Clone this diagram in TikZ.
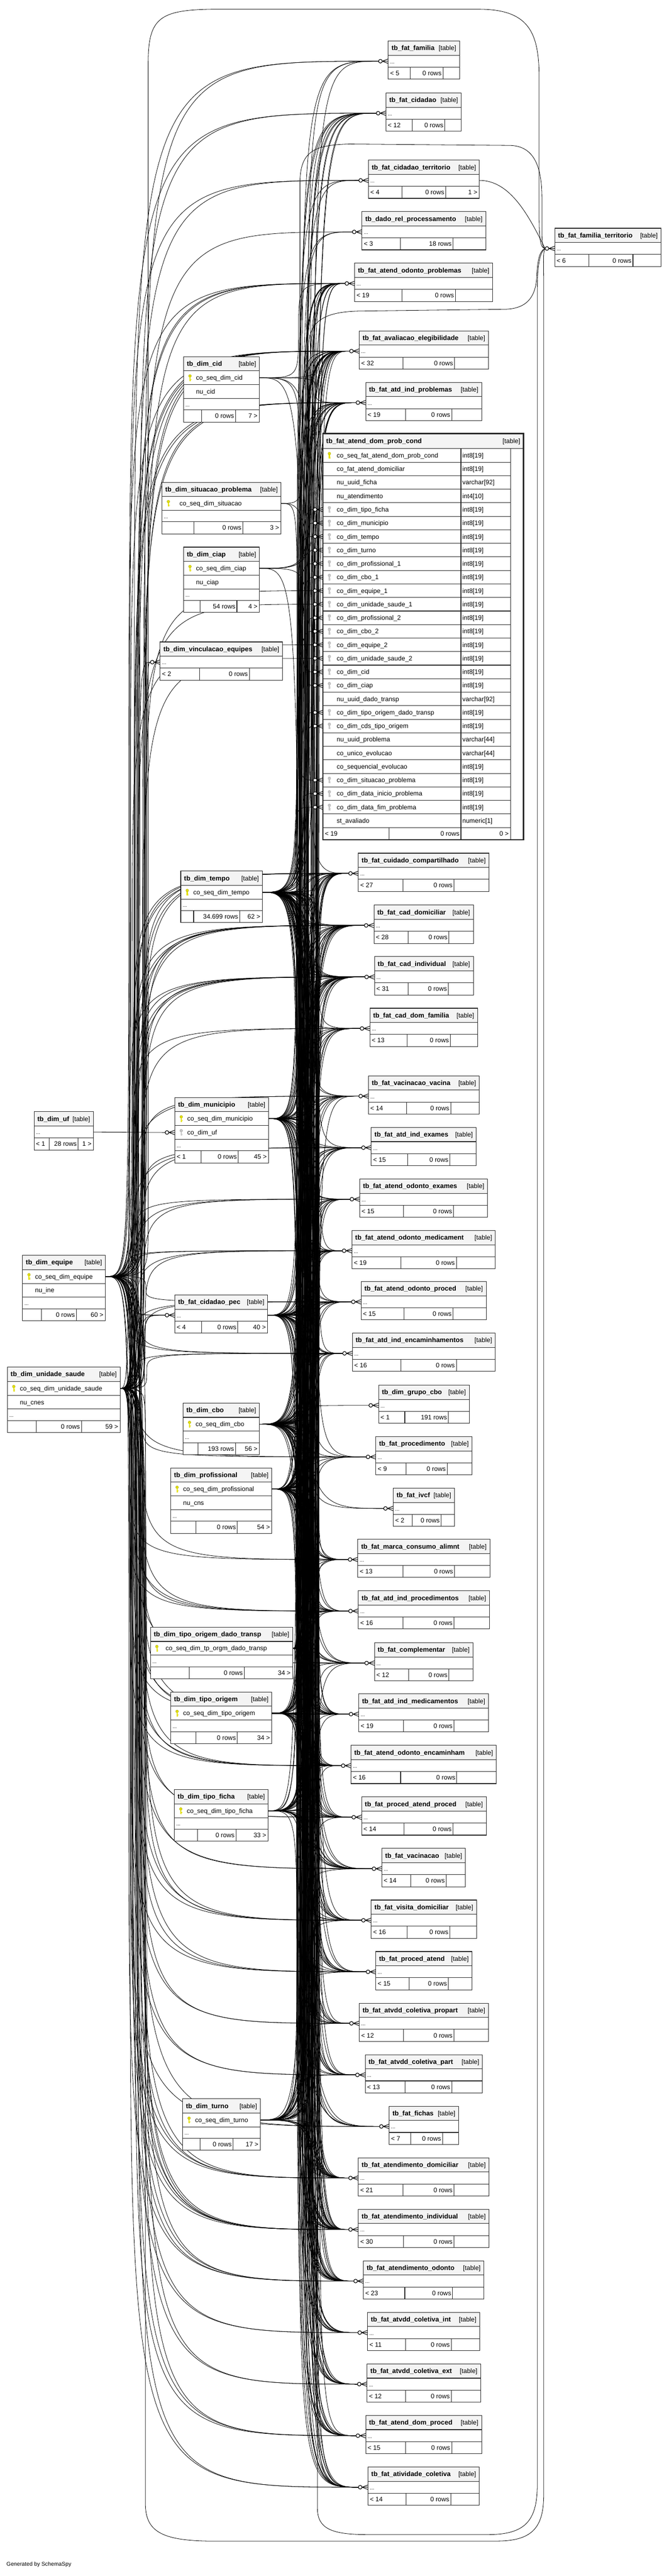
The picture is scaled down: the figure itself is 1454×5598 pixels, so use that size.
\documentclass[tikz,border=0pt]{standalone}
\usepackage{fontspec}
\setmainfont{Liberation Sans}
\usetikzlibrary{calc}
\definecolor{hdrgray}{HTML}{F4F4F4}
\definecolor{keyyel}{HTML}{E3E000}
\definecolor{keyyeld}{HTML}{A8A500}
\definecolor{keygray}{HTML}{C8C8C8}
\definecolor{keygrayd}{HTML}{A0A0A0}
\pgfdeclarelayer{back}
\pgfdeclarelayer{bg}
\pgfsetlayers{back,bg,main}
\newcount\ecnt
\newcommand\tzfnt{\fontsize{14}{16}\selectfont}
\newcommand\tzbfnt{\fontsize{14.5}{16}\selectfont\bfseries}
\newcommand\tzdfnt{\fontsize{11}{12}\selectfont}
\def\fL{}\def\fM{}\def\fR{}
\newcommand\ft[3]{\def\fL{#1}\def\fM{#2}\def\fR{#3}}
\def\kindK{k}\def\kindF{f}
\def\strE{equipe}\def\strU{unidade}
\tikzset{
  tline/.style={draw=black!85, line width=1.2pt},
  cline/.style={draw=black, line width=0.9pt},
  txt/.style={inner sep=0pt, font=\tzfnt},
  ttl/.style={inner sep=0pt, font=\tzbfnt},
  dts/.style={inner sep=0pt, font=\tzdfnt},
}
% key icon: x y fill draw
\newcommand\keyic[4]{%
  \filldraw[fill=#3, draw=#4, line width=0.5pt] (#1,#2-4) circle (3pt);
  \fill[#3] (#1-1.2,#2-1.5) rectangle (#1+1.2,#2+7);
  \fill[#3] (#1+1.2,#2+3) rectangle (#1+3,#2+4.5);
  \fill[#3] (#1+1.2,#2+5.5) rectangle (#1+2.5,#2+6.8);
}
% header: name x1 x2 ytop title
\newcommand\tabhead[5]{%
  \draw[tline, fill=hdrgray] (#2,#4) rectangle (#3,#4+31);
  \node[ttl, anchor=base west] (#1-title) at (#2+7,#4+20.5) {#5};
  \node[txt, anchor=base east] (#1-tag) at (#3-7,#4+20.5) {[table]};
}
% dots row: name x1 x2 y h
\newcommand\tabdots[5]{%
  \draw[tline, fill=white] (#2,#4) rectangle (#3,#4+#5);
  \node[dts, anchor=base west] (#1-dots) at (#2+4,#4+#5/2+5) {...};
}
% footer: name x1 s1 s2 x2 y h
\newcommand\tabfoot[7]{%
  \draw[tline, fill=white] (#2,#6) rectangle (#3,#6+#7);
  \draw[tline, fill=white] (#3,#6) rectangle (#4,#6+#7);
  \draw[tline, fill=white] (#4,#6) rectangle (#5,#6+#7);
  \node[txt, anchor=base west] (#1-fl) at (#2+4,#6+#7/2+5) {\fL};
  \node[txt, anchor=base east] (#1-fm) at (#4-3,#6+#7/2+5) {\fM};
  \node[txt, anchor=base east] (#1-fr) at (#5-4,#6+#7/2+5) {\fR};
}
% column row: name x1 x2 y h text indent kind
\newcommand\tabrow[8]{%
  \draw[tline, fill=white] (#2,#4) rectangle (#3,#4+#5);
  \edef\tzkk{#8}%
  \ifx\tzkk\kindK\keyic{#2+14}{#4+#5/2}{keyyel}{keyyeld}\fi
  \ifx\tzkk\kindF\keyic{#2+14}{#4+#5/2}{keygray}{keygrayd}\fi
  \node[txt, anchor=base west] (#1) at (#2+#7,#4+#5/2+5) {#6};
}
% fact table: name x1 s1 s2 x2 ytop title
\newcommand\facttab[7]{%
  \tabhead{#1}{#2}{#5}{#6}{#7}
  \tabdots{#1}{#2}{#5}{#6+31}{26}
  \tabfoot{#1}{#2}{#3}{#4}{#5}{#6+57}{26}
  \coordinate (#1-in) at (#2,#6+44);
  \coordinate (#1-e) at (#2-21,#6+44);
  \coordinate (#1-out) at (#5,#6+44);
}
% table with columns: name x1 s1 s2 x2 ytop title rows n
\newcommand\coltab[9]{%
  \tabhead{#1}{#2}{#5}{#6}{#7}
  \foreach \tzk/\tzn/\tzi [count=\i] in {#8} {
    \pgfmathsetmacro\tzY{#6+31+30*(\i-1)}
    \tabrow{#1-c\i}{#2}{#5}{\tzY}{30}{\tzn}{\tzi}{\tzk}
  }
  \pgfmathsetmacro\tzYd{#6+31+30*#9}
  \tabdots{#1}{#2}{#5}{\tzYd}{25}
  \pgfmathsetmacro\tzYf{#6+56+30*#9}
  \tabfoot{#1}{#2}{#3}{#4}{#5}{\tzYf}{26}
  \coordinate (#1-out) at (#5,#6+46);
  \coordinate (#1-in) at (#2,#6+46);
  \coordinate (#1-e) at (#2-21,#6+46);
}
% connectors
\newcommand\edgeGen[5]{%
  \global\advance\ecnt by 1\relax
  \pgfmathsetmacro\tzcx{#3+mod(mod(\the\ecnt,#4)*#5,#4)}%
  \coordinate (tzcc) at (\tzcx,0);
  \coordinate (tzcA) at (tzcc |- #1-out);
  \coordinate (tzcB) at (tzcc |- #2-e);
  \draw[cline] (#1-out) .. controls (tzcA) and (tzcA) .. ($(tzcA)!0.5!(tzcB)$) .. controls (tzcB) and (tzcB) .. (#2-e);
}
\newcommand\tzedge[2]{%
  \edef\tzpp{#1}%
  \ifx\tzpp\strE \edgeGen{#1}{#2}{280}{40}{23}%
  \else\ifx\tzpp\strU \edgeGen{#1}{#2}{280}{40}{23}%
  \else \edgeGen{#1}{#2}{645}{50}{37}\fi\fi
}
\newcommand\tzedgebig[2]{%
  \edef\tzpp{#1}%
  \ifx\tzpp\strE \edgeGen{#1}{#2}{280}{40}{23}%
  \else\ifx\tzpp\strU \edgeGen{#1}{#2}{280}{40}{23}%
  \else \edgeGen{#1}{#2}{641}{26}{11}\fi\fi
}
\newcommand\crowmk[1]{%
  \draw[cline, line width=1.1pt] ($(#1-in)+(-13,0)$) -- ($(#1-in)+(0,5)$)
    ($(#1-in)+(-13,0)$) -- ($(#1-in)+(0,-5)$)
    ($(#1-in)+(-13,0)$) -- (#1-in)
    ($(#1-in)+(-21,0)$) -- ($(#1-in)+(-13,0)$);
  \draw[cline, line width=1.3pt, fill=white] ($(#1-in)+(-17,0)$) circle (4pt);
}
\begin{document}
\begin{tikzpicture}[x=1pt,y=-1pt]
\begin{pgfonlayer}{back}
\fill[white] (0,0) rectangle (1454,5598);
\end{pgfonlayer}
\useasboundingbox (0,0) rectangle (1454,5598);

% ---------------- fact tables (right column) ----------------
\ft{< 5}{0 rows}{}\facttab{fam}{844}{892}{963}{999}{89}{tb\_fat\_familia}
\ft{< 12}{0 rows}{}\facttab{cidadao}{839}{896}{967}{1003}{202}{tb\_fat\_cidadao}
\ft{< 4}{0 rows}{1 >}\facttab{cidterr}{801}{874}{969}{1042}{348}{tb\_fat\_cidadao\_territorio}
\ft{< 3}{18 rows}{}\facttab{dadorel}{787}{870}{985}{1056}{460}{tb\_dado\_rel\_processamento}
\ft{< 19}{0 rows}{}\facttab{odprob}{771}{874}{990}{1071}{572}{tb\_fat\_atend\_odonto\_problemas}
\ft{< 6}{0 rows}{}\facttab{famterr}{1206}{1280}{1376}{1437}{496}{tb\_fat\_familia\_territorio}
\ft{< 32}{0 rows}{}\facttab{aval}{781}{876}{988}{1062}{719}{tb\_fat\_avaliacao\_elegibilidade}
\ft{< 19}{0 rows}{}\facttab{atdprob}{795}{882}{982}{1047}{831}{tb\_fat\_atd\_ind\_problemas}
\ft{< 27}{0 rows}{}\facttab{cuidado}{779}{876}{987}{1063}{1854}{tb\_fat\_cuidado\_compartilhado}
\ft{< 28}{0 rows}{}\facttab{caddom}{813}{887}{976}{1029}{1967}{tb\_fat\_cad\_domiciliar}
\ft{< 31}{0 rows}{}\facttab{cadind}{814}{887}{975}{1029}{2079}{tb\_fat\_cad\_individual}
\ft{< 13}{0 rows}{}\facttab{caddomfam}{804}{885}{979}{1038}{2191}{tb\_fat\_cad\_dom\_familia}
\ft{< 14}{0 rows}{}\facttab{vacvac}{801}{884}{980}{1042}{2338}{tb\_fat\_vacinacao\_vacina}
\ft{< 15}{0 rows}{}\facttab{atdexam}{807}{886}{978}{1035}{2450}{tb\_fat\_atd\_ind\_exames}
\ft{< 15}{0 rows}{}\facttab{odexam}{782}{877}{986}{1060}{2562}{tb\_fat\_atend\_odonto\_exames}
\ft{< 19}{0 rows}{}\facttab{odmed}{765}{872}{992}{1077}{2674}{tb\_fat\_atend\_odonto\_medicament}
\ft{< 15}{0 rows}{}\facttab{odproc}{785}{878}{985}{1057}{2785}{tb\_fat\_atend\_odonto\_proced}
\ft{< 16}{0 rows}{}\facttab{atdenc}{766}{872}{992}{1077}{2897}{tb\_fat\_atd\_ind\_encaminhamentos}
\ft{< 1}{191 rows}{}\facttab{grupocbo}{823}{880}{975}{1020}{3010}{tb\_dim\_grupo\_cbo}
\ft{< 9}{0 rows}{}\facttab{proced}{817}{883}{972}{1026}{3122}{tb\_fat\_procedimento}
\ft{< 2}{0 rows}{}\facttab{ivcf}{855}{896}{959}{988}{3234}{tb\_fat\_ivcf}
\ft{< 13}{0 rows}{}\facttab{marca}{778}{876}{988}{1065}{3345}{tb\_fat\_marca\_consumo\_alimnt}
\ft{< 16}{0 rows}{}\facttab{atdproc}{779}{876}{987}{1064}{3457}{tb\_fat\_atd\_ind\_procedimentos}
\ft{< 12}{0 rows}{}\facttab{compl}{814}{888}{976}{1028}{3570}{tb\_fat\_complementar}
\ft{< 19}{0 rows}{}\facttab{atdmed}{780}{877}{987}{1062}{3681}{tb\_fat\_atd\_ind\_medicamentos}
\ft{< 16}{0 rows}{}\facttab{odenc}{763}{871}{993}{1079}{3793}{tb\_fat\_atend\_odonto\_encaminham}
\ft{< 14}{0 rows}{}\facttab{procatproc}{786}{878}{985}{1057}{3905}{tb\_fat\_proced\_atend\_proced}
\ft{< 14}{0 rows}{}\facttab{vacin}{830}{893}{970}{1012}{4017}{tb\_fat\_vacinacao}
\ft{< 16}{0 rows}{}\facttab{visita}{807}{885}{978}{1036}{4129}{tb\_fat\_visita\_domiciliar}
\ft{< 15}{0 rows}{}\facttab{procat}{817}{889}{975}{1026}{4241}{tb\_fat\_proced\_atend}
\ft{< 12}{0 rows}{}\facttab{propart}{781}{877}{987}{1062}{4353}{tb\_fat\_atvdd\_coletiva\_propart}
\ft{< 13}{0 rows}{}\facttab{part}{794}{881}{982}{1049}{4465}{tb\_fat\_atvdd\_coletiva\_part}
\ft{< 7}{0 rows}{}\facttab{fichas}{846}{893}{962}{997}{4577}{tb\_fat\_fichas}
\ft{< 21}{0 rows}{}\facttab{atdom}{779}{876}{987}{1063}{4689}{tb\_fat\_atendimento\_domiciliar}
\ft{< 30}{0 rows}{}\facttab{atind}{779}{877}{987}{1063}{4801}{tb\_fat\_atendimento\_individual}
\ft{< 23}{0 rows}{}\facttab{atodo}{790}{880}{984}{1052}{4913}{tb\_fat\_atendimento\_odonto}
\ft{< 11}{0 rows}{}\facttab{cint}{799}{882}{981}{1043}{5025}{tb\_fat\_atvdd\_coletiva\_int}
\ft{< 12}{0 rows}{}\facttab{cext}{798}{882}{981}{1045}{5137}{tb\_fat\_atvdd\_coletiva\_ext}
\ft{< 15}{0 rows}{}\facttab{atdomproc}{795}{882}{982}{1047}{5249}{tb\_fat\_atend\_dom\_proced}
\ft{< 14}{0 rows}{}\facttab{ativcol}{800}{883}{980}{1042}{5361}{tb\_fat\_atividade\_coletiva}
\ft{< 2}{0 rows}{}\facttab{vinc}{348}{434}{542}{614}{1395}{tb\_dim\_vinculacao\_equipes}
\ft{< 1}{28 rows}{1 >}\facttab{uf}{74}{107}{170}{203}{2416}{tb\_dim\_uf}
\ft{< 4}{0 rows}{40 >}\facttab{pec}{380}{438}{517}{582}{2814}{tb\_fat\_cidadao\_pec}

% ---------------- dimension tables ----------------
\ft{}{0 rows}{7 >}\coltab{cid}{399}{438}{512}{564}{775}{tb\_dim\_cid}{k/co\_seq\_dim\_cid/27,n/nu\_cid/27}{2}
\ft{}{0 rows}{3 >}\coltab{sit}{352}{422}{528}{611}{1048}{tb\_dim\_situacao\_problema}{k/co\_seq\_dim\_situacao/38}{1}
\ft{}{54 rows}{4 >}\coltab{ciap}{399}{435}{515}{564}{1189}{tb\_dim\_ciap}{k/co\_seq\_dim\_ciap/27,n/nu\_ciap/27}{2}
\ft{}{34.699 rows}{62 >}\coltab{tempo}{393}{421}{521}{570}{1893}{tb\_dim\_tempo}{k/co\_seq\_dim\_tempo/27}{1}
\ft{< 1}{0 rows}{45 >}\coltab{mun}{380}{437}{518}{584}{2385}{tb\_dim\_municipio}{k/co\_seq\_dim\_municipio/27,f/co\_dim\_uf/27}{2}
\ft{}{0 rows}{60 >}\coltab{equipe}{49}{90}{166}{229}{2728}{tb\_dim\_equipe}{k/co\_seq\_dim\_equipe/27,n/nu\_ine/27}{2}
\ft{}{0 rows}{59 >}\coltab{unidade}{16}{79}{177}{261}{2971}{tb\_dim\_unidade\_saude}{k/co\_seq\_dim\_unidade\_saude/27,n/nu\_cnes/27}{2}
\ft{}{193 rows}{56 >}\coltab{cbo}{398}{430}{512}{564}{3049}{tb\_dim\_cbo}{k/co\_seq\_dim\_cbo/27}{1}
\ft{}{0 rows}{54 >}\coltab{prof}{371}{426}{516}{591}{3190}{tb\_dim\_profissional}{k/co\_seq\_dim\_profissional/27,n/nu\_cns/27}{2}
\ft{}{0 rows}{34 >}\coltab{dtransp}{327}{411}{531}{636}{3536}{tb\_dim\_tipo\_origem\_dado\_transp}{k/co\_seq\_dim\_tp\_orgm\_dado\_transp/33}{1}
\ft{}{0 rows}{34 >}\coltab{torig}{371}{426}{516}{591}{3677}{tb\_dim\_tipo\_origem}{k/co\_seq\_dim\_tipo\_origem/27}{1}
\ft{}{0 rows}{33 >}\coltab{tficha}{379}{429}{513}{583}{3889}{tb\_dim\_tipo\_ficha}{k/co\_seq\_dim\_tipo\_ficha/27}{1}
\ft{}{0 rows}{17 >}\coltab{turno}{397}{435}{507}{566}{4561}{tb\_dim\_turno}{k/co\_seq\_dim\_turno/27}{1}
\coordinate (munfk-in) at (380,2461);
\coordinate (munfk-e) at (359,2461);

% ---------------- big table ----------------
\draw[tline, fill=hdrgray] (702,942) rectangle (1138,975);
\node[ttl, anchor=base west] (big-title) at (709,963.5) {tb\_fat\_atend\_dom\_prob\_cond};
\node[txt, anchor=base east] (big-tag) at (1131,963.5) {[table]};
\draw[tline, fill=white] (1110,975) rectangle (1138,1825);
\foreach \tzk/\tzn/\tzt [count=\i] in {
  k/co\_seq\_fat\_atend\_dom\_prob\_cond/int8[19],
  n/co\_fat\_atend\_domiciliar/int8[19],
  n/nu\_uuid\_ficha/varchar[92],
  n/nu\_atendimento/int4[10],
  f/co\_dim\_tipo\_ficha/int8[19],
  f/co\_dim\_municipio/int8[19],
  f/co\_dim\_tempo/int8[19],
  f/co\_dim\_turno/int8[19],
  f/co\_dim\_profissional\_1/int8[19],
  f/co\_dim\_cbo\_1/int8[19],
  f/co\_dim\_equipe\_1/int8[19],
  f/co\_dim\_unidade\_saude\_1/int8[19],
  f/co\_dim\_profissional\_2/int8[19],
  f/co\_dim\_cbo\_2/int8[19],
  f/co\_dim\_equipe\_2/int8[19],
  f/co\_dim\_unidade\_saude\_2/int8[19],
  f/co\_dim\_cid/int8[19],
  f/co\_dim\_ciap/int8[19],
  n/nu\_uuid\_dado\_transp/varchar[92],
  f/co\_dim\_tipo\_origem\_dado\_transp/int8[19],
  f/co\_dim\_cds\_tipo\_origem/int8[19],
  n/nu\_uuid\_problema/varchar[44],
  n/co\_unico\_evolucao/varchar[44],
  n/co\_sequencial\_evolucao/int8[19],
  f/co\_dim\_situacao\_problema/int8[19],
  f/co\_dim\_data\_inicio\_problema/int8[19],
  f/co\_dim\_data\_fim\_problema/int8[19],
  n/st\_avaliado/numeric[1]} {
  \pgfmathsetmacro\tzY{975+29.4*(\i-1)}
  \tabrow{big-c\i}{702}{1002}{\tzY}{29.4}{\tzn}{30}{\tzk}
  \draw[tline, fill=white] (1002,\tzY) rectangle (1110,\tzY+29.4);
  \node[txt, anchor=base west] (big-t\i) at (1005,\tzY+19.7) {\tzt};
  \coordinate (big-r\i-in) at (702,\tzY+14.7);
  \coordinate (big-r\i-e) at (681,\tzY+14.7);
}
\ft{< 19}{0 rows}{0 >}\tabfoot{big}{702}{846}{1002}{1110}{1798.2}{26.8}
\draw[black!85, line width=3pt] (702,942) rectangle (1138,1825);

\node[txt, anchor=base west, font=\fontsize{12}{14}\selectfont] (gen) at (14,5576) {Generated by SchemaSpy};

% ---------------- connectors ----------------
\begin{pgfonlayer}{bg}
\foreach \tzf/\tzl in {
 fam/{pec,tempo,mun,unidade,equipe},
 cidadao/{tempo,unidade,equipe,prof,cbo,mun,tficha,torig,dtransp,pec,turno,tempo},
 cidterr/{pec,mun,unidade,equipe},
 dadorel/{tempo,mun,unidade},
 odprob/{tempo,unidade,equipe,prof,cbo,mun,tficha,torig,dtransp,pec,turno,tempo,prof,cbo,unidade,equipe,tempo,cid,ciap},
 aval/{tempo,unidade,equipe,prof,cbo,mun,tficha,torig,dtransp,pec,turno,tempo,prof,cbo,unidade,equipe,tempo,pec,dtransp,torig,mun,prof,cbo,unidade,equipe,tempo,cid,ciap,sit,tempo,mun,pec},
 atdprob/{tempo,unidade,equipe,prof,cbo,mun,tficha,torig,dtransp,pec,turno,tempo,prof,cbo,unidade,equipe,tempo,cid,ciap},
 cuidado/{tempo,unidade,equipe,prof,cbo,mun,tficha,torig,dtransp,pec,turno,tempo,prof,cbo,unidade,equipe,tempo,pec,dtransp,torig,mun,prof,cbo,unidade,equipe,tempo,cid},
 caddom/{tempo,unidade,equipe,prof,cbo,mun,tficha,torig,dtransp,pec,turno,tempo,prof,cbo,unidade,equipe,tempo,pec,dtransp,torig,mun,prof,cbo,unidade,equipe,tempo,mun,pec},
 cadind/{tempo,unidade,equipe,prof,cbo,mun,tficha,torig,dtransp,pec,turno,tempo,prof,cbo,unidade,equipe,tempo,pec,dtransp,torig,mun,prof,cbo,unidade,equipe,tempo,mun,pec,tempo,tempo,mun},
 caddomfam/{tempo,unidade,equipe,prof,cbo,mun,tficha,torig,dtransp,pec,turno,tempo,prof},
 vacvac/{tempo,unidade,equipe,prof,cbo,mun,tficha,torig,dtransp,pec,turno,tempo,prof,cbo},
 atdexam/{tempo,unidade,equipe,prof,cbo,mun,tficha,torig,dtransp,pec,turno,tempo,prof,cbo,unidade},
 odexam/{tempo,unidade,equipe,prof,cbo,mun,tficha,torig,dtransp,pec,turno,tempo,prof,cbo,unidade},
 odmed/{tempo,unidade,equipe,prof,cbo,mun,tficha,torig,dtransp,pec,turno,tempo,prof,cbo,unidade,equipe,tempo,pec,dtransp},
 odproc/{tempo,unidade,equipe,prof,cbo,mun,tficha,torig,dtransp,pec,turno,tempo,prof,cbo,unidade},
 atdenc/{tempo,unidade,equipe,prof,cbo,mun,tficha,torig,dtransp,pec,turno,tempo,prof,cbo,unidade,equipe},
 grupocbo/{cbo},
 proced/{tempo,unidade,equipe,prof,cbo,mun,tficha,torig,dtransp},
 ivcf/{pec,tempo},
 marca/{tempo,unidade,equipe,prof,cbo,mun,tficha,torig,dtransp,pec,turno,tempo,prof},
 atdproc/{tempo,unidade,equipe,prof,cbo,mun,tficha,torig,dtransp,pec,turno,tempo,prof,cbo,unidade,equipe},
 compl/{tempo,unidade,equipe,prof,cbo,mun,tficha,torig,dtransp,pec,turno,tempo},
 atdmed/{tempo,unidade,equipe,prof,cbo,mun,tficha,torig,dtransp,pec,turno,tempo,prof,cbo,unidade,equipe,tempo,pec,dtransp},
 odenc/{tempo,unidade,equipe,prof,cbo,mun,tficha,torig,dtransp,pec,turno,tempo,prof,cbo,unidade,equipe},
 procatproc/{tempo,unidade,equipe,prof,cbo,mun,tficha,torig,dtransp,pec,turno,tempo,prof,cbo},
 vacin/{tempo,unidade,equipe,prof,cbo,mun,tficha,torig,dtransp,pec,turno,tempo,prof,cbo},
 visita/{tempo,unidade,equipe,prof,cbo,mun,tficha,torig,dtransp,pec,turno,tempo,prof,cbo,unidade,equipe},
 procat/{tempo,unidade,equipe,prof,cbo,mun,tficha,torig,dtransp,pec,turno,tempo,prof,cbo,unidade},
 propart/{tempo,unidade,equipe,prof,cbo,mun,tficha,torig,dtransp,pec,turno,tempo},
 part/{tempo,unidade,equipe,prof,cbo,mun,tficha,torig,dtransp,pec,turno,tempo,prof},
 fichas/{tempo,unidade,equipe,prof,cbo,mun,tficha},
 atdom/{tempo,unidade,equipe,prof,cbo,mun,tficha,torig,dtransp,pec,turno,tempo,prof,cbo,unidade,equipe,tempo,pec,dtransp,torig,mun},
 atind/{tempo,unidade,equipe,prof,cbo,mun,tficha,torig,dtransp,pec,turno,tempo,prof,cbo,unidade,equipe,tempo,pec,dtransp,torig,mun,prof,cbo,unidade,equipe,tempo,cid,ciap,sit,tempo},
 atodo/{tempo,unidade,equipe,prof,cbo,mun,tficha,torig,dtransp,pec,turno,tempo,prof,cbo,unidade,equipe,tempo,pec,dtransp,torig,mun,prof,cbo},
 cint/{tempo,unidade,equipe,prof,cbo,mun,tficha,torig,dtransp,pec,turno},
 cext/{tempo,unidade,equipe,prof,cbo,mun,tficha,torig,dtransp,pec,turno,tempo},
 atdomproc/{tempo,unidade,equipe,prof,cbo,mun,tficha,torig,dtransp,pec,turno,tempo,prof,cbo,unidade},
 ativcol/{tempo,unidade,equipe,prof,cbo,mun,tficha,torig,dtransp,pec,turno,tempo,prof,cbo},
 vinc/{equipe,unidade},
 pec/{equipe,unidade,equipe,unidade}} {
  \foreach \tzp in \tzl {\tzedge{\tzp}{\tzf}}
}
\foreach \tzr/\tzp in {5/tficha,6/mun,7/tempo,8/turno,9/prof,10/cbo,11/equipe,12/unidade,13/prof,14/cbo,15/equipe,16/unidade,17/cid,18/ciap,20/dtransp,21/torig,25/sit,26/tempo,27/tempo} {
  \tzedgebig{\tzp}{big-r\tzr}
}
\draw[cline] (uf-out) -- (munfk-e);
% connectors to tb_fat_familia_territorio
\draw[cline] (cidterr-out) .. controls (1110,392) and (1150,470) .. (famterr-e);
\draw[cline] (equipe-out) .. controls (322,2774) and (322,2774) .. (322,2650) -- (322,140) .. controls (322,40) and (345,22) .. (460,20) -- (1040,20) .. controls (1150,20) and (1172,70) .. (1172,170) -- (1172,470) .. controls (1172,520) and (1175,540) .. (famterr-e);
\draw[cline] (tempo-out) .. controls (652,1939) and (652,1939) .. (652,1850) -- (652,400) .. controls (652,330) and (680,315) .. (760,313) -- (1110,316) .. controls (1160,318) and (1178,360) .. (1178,430) -- (1178,500) .. controls (1178,530) and (1180,540) .. (famterr-e);
\draw[cline] (mun-out) .. controls (670,2431) and (670,2431) .. (670,2330) -- (670,760) .. controls (670,700) and (700,678) .. (780,676) -- (1100,672) .. controls (1150,670) and (1165,640) .. (1167,600) .. controls (1168,570) and (1172,545) .. (famterr-e);
\draw[cline] (unidade-out) .. controls (316,3017) and (316,3017) .. (316,3120) -- (316,5440) .. controls (316,5500) and (350,5520) .. (450,5522) -- (1080,5522) .. controls (1160,5522) and (1182,5490) .. (1182,5420) -- (1182,620) .. controls (1182,570) and (1180,548) .. (famterr-e);
\draw[cline] (pec-out) .. controls (690,2858) and (690,2858) .. (690,2950) -- (690,5450) .. controls (690,5495) and (720,5508) .. (800,5508) -- (1060,5508) .. controls (1140,5508) and (1168,5480) .. (1168,5400) -- (1168,640) .. controls (1168,580) and (1172,550) .. (famterr-e);
\end{pgfonlayer}

% ---------------- relationship markers ----------------
\foreach \tzt in {fam,cidadao,cidterr,dadorel,odprob,famterr,aval,atdprob,cuidado,caddom,cadind,caddomfam,vacvac,atdexam,odexam,odmed,odproc,atdenc,grupocbo,proced,ivcf,marca,atdproc,compl,atdmed,odenc,procatproc,vacin,visita,procat,propart,part,fichas,atdom,atind,atodo,cint,cext,atdomproc,ativcol,vinc,pec,munfk} {
  \crowmk{\tzt}
}
\foreach \tzr in {5,6,7,8,9,10,11,12,13,14,15,16,17,18,20,21,25,26,27} {
  \crowmk{big-r\tzr}
}
\end{tikzpicture}
\end{document}
